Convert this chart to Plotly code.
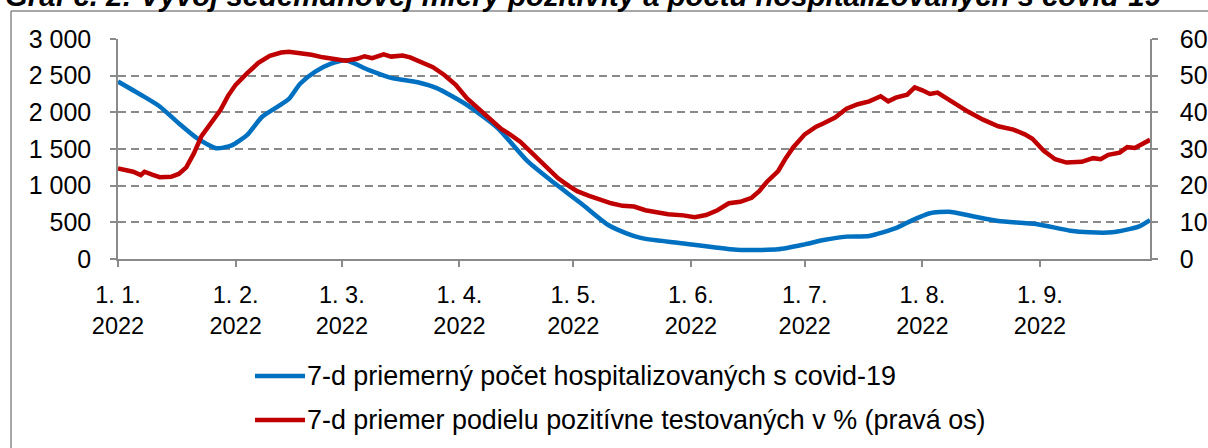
import plotly.graph_objects as go

# ---- data ----
hosp_dates = ["2022-01-01", "2022-01-07", "2022-01-12", "2022-01-17", "2022-01-22", "2022-01-27",
              "2022-01-31", "2022-02-04", "2022-02-08", "2022-02-15", "2022-02-18", "2022-02-22",
              "2022-02-26", "2022-03-02", "2022-03-08", "2022-03-14", "2022-03-21", "2022-03-26",
              "2022-04-03", "2022-04-11", "2022-04-19", "2022-04-26", "2022-05-03", "2022-05-10",
              "2022-05-15", "2022-05-19", "2022-05-31", "2022-06-07", "2022-06-13", "2022-06-24",
              "2022-07-01", "2022-07-06", "2022-07-12", "2022-07-18", "2022-07-25", "2022-07-29",
              "2022-08-03", "2022-08-08", "2022-08-14", "2022-08-21", "2022-08-31", "2022-09-09",
              "2022-09-14", "2022-09-20", "2022-09-27", "2022-09-30"]
hosp_values = [2420, 2240, 2080, 1850, 1640, 1510,
               1550, 1690, 1940, 2180, 2390, 2555,
               2660, 2710, 2580, 2470, 2410, 2330,
               2100, 1790, 1330, 1035, 760, 470,
               350, 285, 205, 160, 125, 132,
               200, 259, 305, 314, 420, 520,
               623, 645, 586, 518, 477, 386,
               364, 364, 441, 530]

pos_dates = ["2022-01-01", "2022-01-03", "2022-01-05", "2022-01-07", "2022-01-08", "2022-01-10",
             "2022-01-12", "2022-01-15", "2022-01-17", "2022-01-19", "2022-01-21", "2022-01-23",
             "2022-01-26", "2022-01-28", "2022-01-30", "2022-02-01", "2022-02-04", "2022-02-07",
             "2022-02-10", "2022-02-13", "2022-02-15", "2022-02-18", "2022-02-21", "2022-02-24",
             "2022-02-27", "2022-03-02", "2022-03-05", "2022-03-07", "2022-03-09", "2022-03-12",
             "2022-03-14", "2022-03-17", "2022-03-19", "2022-03-22", "2022-03-25", "2022-03-28",
             "2022-03-31", "2022-04-03", "2022-04-06", "2022-04-09", "2022-04-12", "2022-04-14",
             "2022-04-17", "2022-04-20", "2022-04-22", "2022-04-24", "2022-04-27", "2022-04-30",
             "2022-05-02", "2022-05-05", "2022-05-08", "2022-05-11", "2022-05-14", "2022-05-17",
             "2022-05-20", "2022-05-23", "2022-05-26", "2022-05-30", "2022-06-02", "2022-06-05",
             "2022-06-08", "2022-06-11", "2022-06-14", "2022-06-17", "2022-06-19", "2022-06-21",
             "2022-06-24", "2022-06-26", "2022-06-28", "2022-07-01", "2022-07-04", "2022-07-06",
             "2022-07-09", "2022-07-12", "2022-07-15", "2022-07-18", "2022-07-21", "2022-07-23",
             "2022-07-25", "2022-07-28", "2022-07-30", "2022-08-01", "2022-08-03", "2022-08-05",
             "2022-08-08", "2022-08-11", "2022-08-13", "2022-08-17", "2022-08-21", "2022-08-25",
             "2022-08-28", "2022-08-30", "2022-09-02", "2022-09-05", "2022-09-08", "2022-09-12",
             "2022-09-15", "2022-09-17", "2022-09-19", "2022-09-22", "2022-09-24", "2022-09-26",
             "2022-09-29", "2022-09-30"]
pos_values = [24.7, 24.2, 23.8, 22.9, 23.8, 23.0,
              22.3, 22.4, 23.2, 25.0, 28.8, 33.5,
              37.5, 40.6, 44.5, 47.5, 50.6, 53.5,
              55.4, 56.3, 56.5, 56.2, 55.7, 55.0,
              54.4, 54.1, 54.6, 55.3, 54.8, 55.8,
              55.2, 55.5, 55.0, 53.8, 52.3, 50.2,
              47.5, 43.8, 41.0, 38.0, 35.5, 34.2,
              32.0, 29.0, 27.0, 24.7, 22.0, 19.8,
              18.5, 17.3, 16.1, 15.2, 14.5, 14.3,
              13.3, 12.6, 12.2, 11.9, 11.4, 12.0,
              13.3, 15.2, 15.6, 16.7, 18.5, 21.0,
              24.0, 27.5, 30.5, 34.0, 36.1, 37.0,
              38.6, 41.0, 42.2, 43.0, 44.4, 43.0,
              44.0, 44.8, 46.8, 46.0, 45.0, 45.4,
              43.4, 41.5, 40.2, 38.0, 36.2, 35.3,
              34.0, 32.8, 29.5, 27.2, 26.3, 26.5,
              27.5, 27.2, 28.4, 29.0, 30.5, 30.3,
              31.8, 32.5]

x_tick_dates = ["2022-01-01", "2022-02-01", "2022-03-01", "2022-04-01", "2022-05-01",
                "2022-06-01", "2022-07-01", "2022-08-01", "2022-09-01"]
x_tick_labels = ["1. 1.<br>2022", "1. 2.<br>2022", "1. 3.<br>2022", "1. 4.<br>2022", "1. 5.<br>2022",
                 "1. 6.<br>2022", "1. 7.<br>2022", "1. 8.<br>2022", "1. 9.<br>2022"]
left_ticks = [0, 500, 1000, 1500, 2000, 2500, 3000]
right_ticks = [0, 10, 20, 30, 40, 50, 60]

series_names = ["7-d priemerný počet hospitalizovaných s covid-19",
                "7-d priemer podielu pozitívne testovaných v % (pravá os)"]
title_text = "Graf č. 2: Vývoj sedemdňovej miery pozitivity a počtu hospitalizovaných s covid-19"

BLUE = "#0070C0"
RED = "#C00000"
GRID = "#8A8A8A"
FONT = "Liberation Sans, Arial, sans-serif"

# plot-area geometry in pixels (used to place paper-referenced decorations)
L, R, T, B = 118, 1150, 39, 259
W, H = R - L, B - T


def px(xp):
    return (xp - L) / W


def py(yp):
    return (B - yp) / H


fig = go.Figure()
fig.add_trace(go.Scatter(x=hosp_dates, y=hosp_values, mode="lines", name=series_names[0],
                         line=dict(color=BLUE, width=4.5, shape="spline", smoothing=0.6),
                         yaxis="y", showlegend=False))
fig.add_trace(go.Scatter(x=pos_dates, y=pos_values, mode="lines", name=series_names[1],
                         line=dict(color=RED, width=4.5),
                         yaxis="y2", showlegend=False))

axis_common = dict(showline=True, linecolor=GRID, linewidth=1.5,
                   ticks="outside", ticklen=6, tickcolor=GRID, tickwidth=1.5,
                   zeroline=False, automargin=False)

fig.update_layout(
    width=1208, height=448,
    margin=dict(l=L, r=1208 - R, t=T, b=448 - B, pad=0, autoexpand=False),
    paper_bgcolor="white", plot_bgcolor="white",
    font=dict(family=FONT, size=24, color="black"),
    separators=", ",
    showlegend=False,
    xaxis=dict(type="date", range=["2022-01-01", "2022-09-30"],
               tickmode="array", tickvals=x_tick_dates, ticktext=x_tick_labels,
               showgrid=False, ticklabelstandoff=8,
               tickfont=dict(family=FONT, size=23.5, color="black"),
               **axis_common),
    yaxis=dict(range=[0, 3000], tickmode="array", tickvals=left_ticks,
               tickformat=",d",
               showgrid=True, gridcolor=GRID, griddash="8px,5px", gridwidth=1.5,
               ticklabelstandoff=14,
               tickfont=dict(family=FONT, size=25, color="black"),
               **axis_common),
    yaxis2=dict(range=[0, 60], tickmode="array", tickvals=right_ticks,
                overlaying="y", side="right", showgrid=False,
                ticklabelstandoff=17,
                tickfont=dict(family=FONT, size=25, color="black"),
                **axis_common),
)

# outer chart frame (left and top edges)
fig.add_shape(type="line", xref="paper", yref="paper",
              x0=px(11), x1=px(1212), y0=py(11), y1=py(11),
              line=dict(color=GRID, width=1.5))
fig.add_shape(type="line", xref="paper", yref="paper",
              x0=px(11), x1=px(11), y0=py(11), y1=py(460),
              line=dict(color=GRID, width=1.5))

# legend drawn below the plot
legend_rows = [(376, BLUE, series_names[0]), (420, RED, series_names[1])]
for yrow, col, name in legend_rows:
    fig.add_shape(type="line", xref="paper", yref="paper",
                  x0=px(255), x1=px(305), y0=py(yrow), y1=py(yrow),
                  line=dict(color=col, width=4.5))
    fig.add_annotation(text=name, xref="paper", yref="paper",
                       x=px(305), xanchor="left", y=py(yrow), yanchor="middle",
                       showarrow=False, font=dict(family=FONT, size=26.9, color="black"))

# partially visible title at the very top
fig.add_annotation(text="<b><i>" + title_text + "</i></b>", xref="paper", yref="paper",
                   x=px(3), xanchor="left",
                   y=py(-4.5), yanchor="middle", showarrow=False,
                   font=dict(family=FONT, size=29.3, color="black"))

fig.write_html("out.html", config={"displayModeBar": False},
               post_script="document.body.style.margin='0';document.body.style.overflow='hidden';")
